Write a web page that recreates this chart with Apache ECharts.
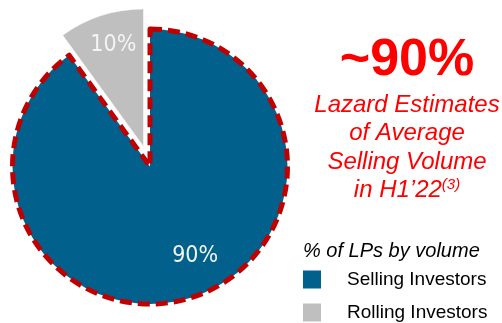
<!DOCTYPE html>
<html>
<head>
<meta charset="utf-8">
<script src="https://cdn.jsdelivr.net/npm/echarts@6/dist/echarts.min.js"></script>
<style>
  html, body { margin: 0; padding: 0; background: #ffffff; }
  #chart { width: 502px; height: 323px; }
</style>
</head>
<body>
<div id="chart"></div>
<script>
// Share of LPs by volume
const categories = ['Selling Investors', 'Rolling Investors'];
const shares = [90, 10];
const sliceColors = ['#02608C', '#BFBFBF'];

const headline = '~90%';
const noteLines = ['Lazard Estimates', 'of Average', 'Selling Volume'];
const noteLast = 'in H1\u201922';
const noteRef = '(3)';
const legendTitle = '% of LPs by volume';

const narrow = '"Liberation Sans Narrow", "Arial Narrow", "DejaVu Sans Condensed", "Liberation Sans", Arial, sans-serif';
const sans = '"Liberation Sans", Arial, sans-serif';

// nudges for the two in-slice percentage labels
const labelNudge = [[23, 21], [-8, -33]];

const chart = echarts.init(document.getElementById('chart'), null, { renderer: 'canvas' });

const pieData = categories.map((name, i) => {
  const item = {
    name: name,
    value: shares[i],
    itemStyle: { color: sliceColors[i] }
  };
  if (i === 0) {
    item.itemStyle.borderColor = '#C00000';
    item.itemStyle.borderWidth = 5;
    item.itemStyle.borderType = [12, 6];
  } else {
    item.selected = true;
    item.itemStyle.borderColor = '#ffffff';
    item.itemStyle.borderWidth = 0.5;
    item.select = { itemStyle: { color: sliceColors[i], borderColor: '#ffffff', borderWidth: 0.5 } };
  }
  return item;
});

chart.setOption({
  animation: false,
  backgroundColor: '#ffffff',
  title: [
    {
      text: headline,
      left: 407, top: 35, padding: 0, textAlign: 'center',
      textStyle: { color: '#FF0000', fontFamily: sans, fontWeight: 'bold', fontSize: 52, lineHeight: 52 }
    },
    {
      text: noteLines.join('\n') + '\n' + noteLast + '{sup|' + noteRef + '}',
      left: 407, top: 91, padding: 0, textAlign: 'center',
      textStyle: {
        color: '#FF0000', fontFamily: sans, fontStyle: 'italic', fontWeight: 'normal',
        fontSize: 24, lineHeight: 28.5, align: 'center',
        rich: {
          sup: { color: '#FF0000', fontFamily: sans, fontStyle: 'italic', fontSize: 15, padding: [0, 0, 11, 0] }
        }
      }
    },
    {
      text: legendTitle,
      left: 303, top: 241, padding: 0,
      textStyle: { color: '#000000', fontFamily: sans, fontStyle: 'italic', fontWeight: 'normal', fontSize: 20, lineHeight: 20 }
    }
  ],
  legend: {
    orient: 'vertical',
    left: 303, top: 270, padding: 0,
    icon: 'rect', itemWidth: 18, itemHeight: 18, itemGap: 14,
    selectedMode: false,
    itemStyle: { borderWidth: 0 },
    data: categories,
    textStyle: { color: '#000000', fontFamily: sans, fontSize: 19, lineHeight: 18, padding: [0, 0, 0, 21] }
  },
  series: [{
    type: 'pie',
    center: [150, 166.5],
    radius: [0, 137.5],
    startAngle: 90,
    clockwise: true,
    selectedMode: 'single',
    selectedOffset: 21,
    silent: true,
    label: {
      show: true,
      position: 'inside',
      formatter: '{c}%',
      color: '#F4F4F4',
      fontFamily: narrow,
      fontSize: 23
    },
    labelLine: { show: false },
    labelLayout: function (p) {
      const n = labelNudge[p.dataIndex];
      return { dx: n[0], dy: n[1] };
    },
    emphasis: { disabled: true },
    data: pieData
  }]
});
</script>
</body>
</html>
